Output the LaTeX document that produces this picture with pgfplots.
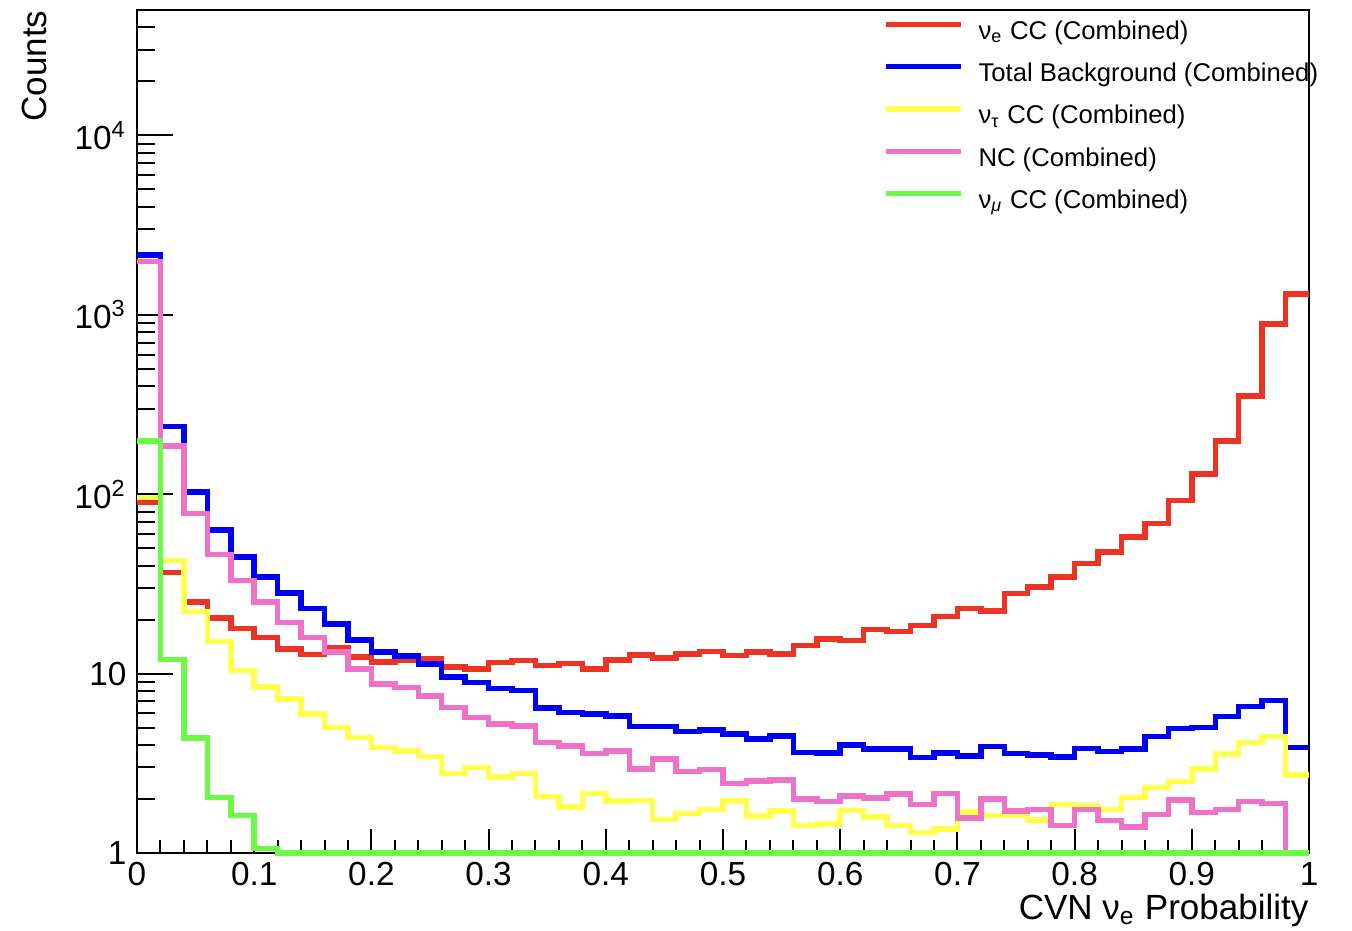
\documentclass[border=0pt]{standalone}
\usepackage{fontspec}
\setmainfont{Liberation Sans}
\usepackage{pgfplots}
\usepackage{pgfplotstable}
\pgfplotsset{compat=1.18}

\definecolor{rootred}{RGB}{237,51,35}
\definecolor{rootblue}{RGB}{0,0,245}
\definecolor{rootyellow}{RGB}{255,255,77}
\definecolor{rootpink}{RGB}{238,114,200}
\definecolor{rootgreen}{RGB}{109,250,70}

% bin left edges, last row repeats the final bin at x=1
\pgfplotstableread{
x    nue   bkg   nutau  nc    numu
0.00 90    2160  96     1980  198
0.02 36.5  238   42.8   186   12.0
0.04 25.0  103   22.2   78    4.37
0.06 20.4  63    15.1   46    2.04
0.08 17.9  44.6  10.4   33.1  1.62
0.10 15.9  34.5  8.4    25.0  1.06
0.12 13.7  28.2  7.2    19.3  1
0.14 12.8  23.0  5.95   15.9  1
0.16 14.0  18.9  5.0    13.2  1
0.18 12.4  15.4  4.41   10.6  1
0.20 11.6  13.2  3.88   8.75  1
0.22 11.8  12.5  3.71   8.39  1
0.24 12.1  11.3  3.45   7.5   1
0.26 10.9  9.55  2.77   6.48  1
0.28 10.6  8.95  3.0    5.7   1
0.30 11.5  8.28  2.66   5.24  1
0.32 11.8  8.03  2.77   5.12  1
0.34 11.1  6.43  2.06   4.13  1
0.36 11.4  6.08  1.81   3.96  1
0.38 10.6  5.95  2.14   3.59  1
0.40 11.9  5.82  1.95   3.71  1
0.42 12.7  5.08  1.96   2.94  1
0.44 12.2  5.08  1.54   3.34  1
0.46 12.9  4.76  1.66   2.85  1
0.48 13.3  4.85  1.75   2.92  1
0.50 12.6  4.6   1.95   2.44  1
0.52 13.2  4.32  1.61   2.52  1
0.54 12.9  4.5   1.72   2.55  1
0.56 14.3  3.63  1.42   2.0   1
0.58 15.6  3.6   1.45   1.94  1
0.60 15.3  4.01  1.73   2.08  1
0.62 17.6  3.8   1.59   2.02  1
0.64 17.2  3.8   1.42   2.13  1
0.66 18.5  3.41  1.3    1.87  1
0.68 20.8  3.6   1.36   2.14  1
0.70 23.0  3.48  1.69   1.57  1
0.72 22.3  3.92  1.62   2.0   1
0.74 27.9  3.59  1.63   1.72  1
0.76 30.3  3.51  1.53   1.75  1
0.78 34.5  3.44  1.87   1.42  1
0.80 41    3.83  1.83   1.75  1
0.82 47.6  3.67  1.75   1.52  1
0.84 57.8  3.8   2.04   1.4   1
0.86 68.6  4.45  2.32   1.64  1
0.88 92.5  4.95  2.5    1.97  1
0.90 130   5.01  2.94   1.68  1
0.92 198   5.75  3.56   1.75  1
0.94 352   6.57  4.13   1.94  1
0.96 887   7.06  4.45   1.89  1
0.98 1310  3.88  2.72   1     1
1.00 1310  3.88  2.72   1     1
}\cvndata

\begin{document}
\begin{tikzpicture}
\useasboundingbox (-41.1pt,-23.1pt) rectangle (364.5pt,255.9pt);
\begin{axis}[
    scale only axis,
    width=351.6pt, height=252.9pt,
    ymode=log,
    xmin=0, xmax=1, ymin=1, ymax=50000,
    xtick={0,0.1,0.2,0.3,0.4,0.5,0.6,0.7,0.8,0.9,1},
    xticklabels={0,0.1,0.2,0.3,0.4,0.5,0.6,0.7,0.8,0.9,1},
    minor x tick num=4,
    ytick={1,10,100,1000,10000},
    yticklabels={1,10,10\textsuperscript{2},10\textsuperscript{3},10\textsuperscript{4}},
    minor ytick={2,3,4,5,6,7,8,9,20,30,40,50,60,70,80,90,
                 200,300,400,500,600,700,800,900,
                 2000,3000,4000,5000,6000,7000,8000,9000,
                 20000,30000,40000},
    tick pos=left,
    tick align=inside,
    major tick length=10.8pt, minor tick length=5.4pt,
    every major x tick/.append style={/pgfplots/major tick length=7.2pt},
    every minor x tick/.append style={/pgfplots/minor tick length=3.8pt},
    axis line style={line width=0.8pt},
    every tick/.append style={line width=0.6pt, black},
    tick label style={font=\fontsize{10}{12}\selectfont},
    xticklabel style={inner sep=0pt, anchor=north, yshift=-2.7pt},
    yticklabel style={inner sep=0pt, anchor=east, xshift=-3pt},
    xlabel={CVN ν\textsubscript{e} Probability},
    ylabel={Counts},
    label style={font=\fontsize{10.5}{12}\selectfont},
    xlabel style={at={(rel axis cs:1,0)}, anchor=north east, inner sep=0pt, yshift=-12pt},
    ylabel style={at={(rel axis cs:-0.076,1)}, anchor=south east, inner sep=0pt},
    clip=false,
    legend style={draw=none, fill=none, at={(0.636,0.989)}, anchor=north west,
        inner sep=0pt, column sep=4.5pt, row sep=4.9pt,
        font=\fontsize{7.7}{9}\selectfont,
        nodes={inner sep=0pt, text height=5.8pt, text depth=2pt}},
    legend cell align=left,
    legend image code/.code={\draw[#1] (0pt,2.6pt) -- (22.5pt,2.6pt);},
    every axis plot/.append style={line width=1.65pt, const plot mark left, no marks},
]
\addplot[rootred] table[x=x, y=nue] {\cvndata};
\addplot[rootblue] table[x=x, y=bkg] {\cvndata};
\addplot[rootyellow] table[x=x, y=nutau] {\cvndata};
\addplot[rootpink] table[x=x, y=nc] {\cvndata};
\addplot[rootgreen] table[x=x, y=numu] {\cvndata};
\legend{ν\textsubscript{e} CC (Combined),
        Total Background (Combined),
        ν\textsubscript{τ} CC (Combined),
        NC (Combined),
        ν\textsubscript{\textit{μ}} CC (Combined)}
\end{axis}
\end{tikzpicture}
\end{document}
